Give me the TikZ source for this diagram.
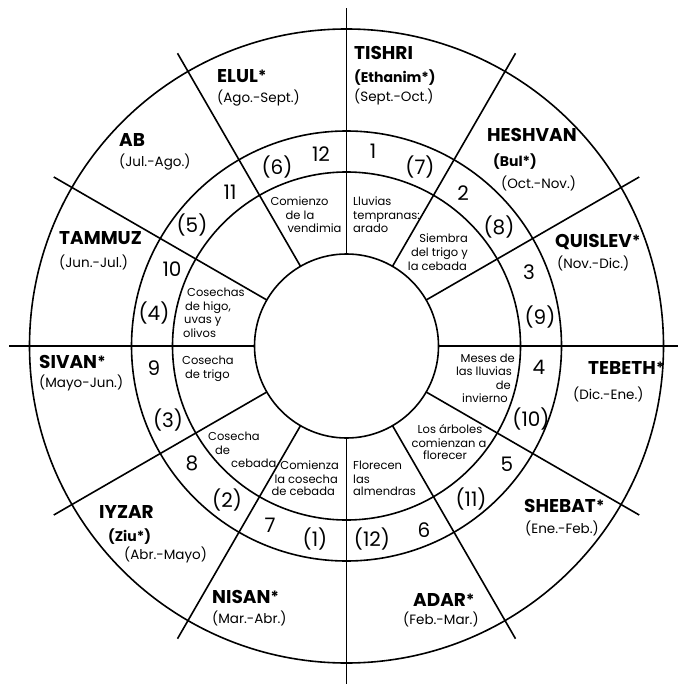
\documentclass[tikz,border=0pt]{standalone}
\usepackage{fontspec}
\setmainfont{Poppins}
\usetikzlibrary{calc}
\newcommand\mast{\kern0.2pt\raisebox{1.2pt}{\fontsize{15.5}{15.5}\selectfont *}}
\tikzset{
  ring/.style={line width=1.6pt},
  mname/.style={font=\fontsize{18.5}{20}\selectfont\bfseries, inner sep=0pt, anchor=west},
  malt/.style={font=\fontsize{14}{16}\selectfont\bfseries, inner sep=0pt, anchor=west},
  mdate/.style={font=\fontsize{13.5}{15}\selectfont, inner sep=0pt, anchor=west},
  num/.style={font=\fontsize{20}{22}\selectfont, inner sep=0pt},
  note/.style={font=\fontsize{11.5}{13}\selectfont, inner sep=0pt, anchor=base},
  notel/.style={note, anchor=base west},
  noter/.style={note, anchor=base east},
}
\begin{document}
\begin{tikzpicture}[x=1pt,y=-1pt]
\useasboundingbox (0,0) rectangle (677,684);
\coordinate (O) at (346.5,346);
% circles
\draw[ring] (O) circle[radius=317pt];
\draw[ring] (O) circle[radius=215pt];
\draw[ring] (O) circle[radius=174pt];
\draw[ring] (O) circle[radius=92pt];
% radial lines
\foreach \a in {0,30,...,330}
  \draw[ring] ($(O)+(\a:92pt)$) -- ($(O)+(\a:338pt)$);

% month names
\node[mname] (tishri) at (354,53) {TISHRI};
\node[malt]  (tishria) at (354,78) {(Ethanim*)};
\node[mdate] (tishrid) at (354,97) {(Sept.-Oct.)};
\node[mname] (elul) at (217,76) {ELUL\mast};
\node[mdate] (eluld) at (217,98) {(Ago.-Sept.)};
\node[mname] (heshvan) at (487,135) {HESHVAN};
\node[malt]  (heshvana) at (493,162) {(Bul*)};
\node[mdate] (heshvand) at (501,183) {(Oct.-Nov.)};
\node[mname] (ab) at (119,140) {AB};
\node[mdate] (abd) at (119,162) {(Jul.-Ago.)};
\node[mname] (quislev) at (555,242) {QUISLEV\mast};
\node[mdate] (quislevd) at (557,263) {(Nov.-Dic.)};
\node[mname] (tammuz) at (59,238) {TAMMUZ};
\node[mdate] (tammuzd) at (59,262) {(Jun.-Jul.)};
\node[mname] (tebeth) at (588,368) {TEBETH\mast};
\node[mdate] (tebethd) at (573,394) {(Dic.-Ene.)};
\node[mname] (sivan) at (39,362) {SIVAN\mast};
\node[mdate] (sivand) at (39,383) {(Mayo-Jun.)};
\node[mname] (shebat) at (524,506) {SHEBAT\mast};
\node[mdate] (shebatd) at (525,528) {(Ene.-Feb.)};
\node[mname] (iyzar) at (99,512) {IYZAR};
\node[malt]  (iyzara) at (108,537) {(Ziu*)};
\node[mdate] (iyzard) at (124,555) {(Abr.-Mayo)};
\node[mname] (nisan) at (212,597) {NISAN\mast};
\node[mdate] (nisand) at (212,618) {(Mar.-Abr.)};
\node[mname] (adar) at (413,600) {ADAR\mast};
\node[mdate] (adard) at (403,619) {(Feb.-Mar.)};

% numbers
\node[num] (n12) at (321,154) {12};
\node[num] (n1) at (373,151) {1};
\node[num] (p6) at (277,167) {(6)};
\node[num] (p7) at (420,167) {(7)};
\node[num] (n11) at (230,192) {11};
\node[num] (p5) at (192,225) {(5)};
\node[num] (n2) at (463,193) {2};
\node[num] (p8) at (499,227) {(8)};
\node[num] (n10) at (172,269) {10};
\node[num] (p4) at (154,313) {(4)};
\node[num] (n3) at (529,272) {3};
\node[num] (p9) at (540,317) {(9)};
\node[num] (n9) at (154,368) {9};
\node[num] (p3) at (168,420) {(3)};
\node[num] (n4) at (539,367) {4};
\node[num] (p10) at (531,419) {(10)};
\node[num] (n8) at (192,463) {8};
\node[num] (p2) at (227,500) {(2)};
\node[num] (n5) at (507,464) {5};
\node[num] (p11) at (471,499) {(11)};
\node[num] (n7) at (270,525) {7};
\node[num] (p1) at (315,539) {(1)};
\node[num] (p12) at (372,539) {(12)};
\node[num] (n6) at (424,530) {6};

% inner notes (baselines)
\node[note] (a1) at (299.5,206) {Comienzo};
\node[note] (a2) at (300,220) {de la};
\node[note] (a3) at (314.5,233) {vendimia};
\node[notel] (b1) at (353,206) {Lluvias};
\node[notel] (b2) at (353,220) {tempranas:};
\node[notel] (b3) at (353,233) {arado};
\node[noter] (c1) at (468,243) {Siembra};
\node[noter] (c2) at (468,257) {del trigo y};
\node[noter] (c3) at (467,270) {la cebada};
\node[notel] (d1) at (187,296) {Cosechas};
\node[notel] (d2) at (185,310) {de higo,};
\node[notel] (d3) at (184,323) {uvas y};
\node[notel] (d4) at (183,337) {olivos};
\node[notel] (e1) at (182,364) {Cosecha};
\node[notel] (e2) at (185,378) {de trigo};
\node[noter] (f1) at (515,362) {Meses de};
\node[noter] (f2) at (512,375) {las lluvias};
\node[noter] (f3) at (511,389) {de};
\node[noter] (f4) at (508,402) {invierno};
\node[note] (g1) at (450,433) {Los árboles};
\node[note] (g2) at (449,447) {comienzan a};
\node[note] (g3) at (445,459) {florecer};
\node[notel] (h1) at (208,440) {Cosecha};
\node[notel] (h2) at (215,454) {de};
\node[notel] (h3) at (231,467) {cebada};
\node[noter] (i1) at (339,469) {Comienza};
\node[noter] (i2) at (338,483) {la cosecha};
\node[noter] (i3) at (335,495) {de cebada};
\node[notel] (j1) at (353,469) {Florecen};
\node[notel] (j2) at (353,483) {las};
\node[notel] (j3) at (353,495) {almendras};
\end{tikzpicture}
\end{document}
